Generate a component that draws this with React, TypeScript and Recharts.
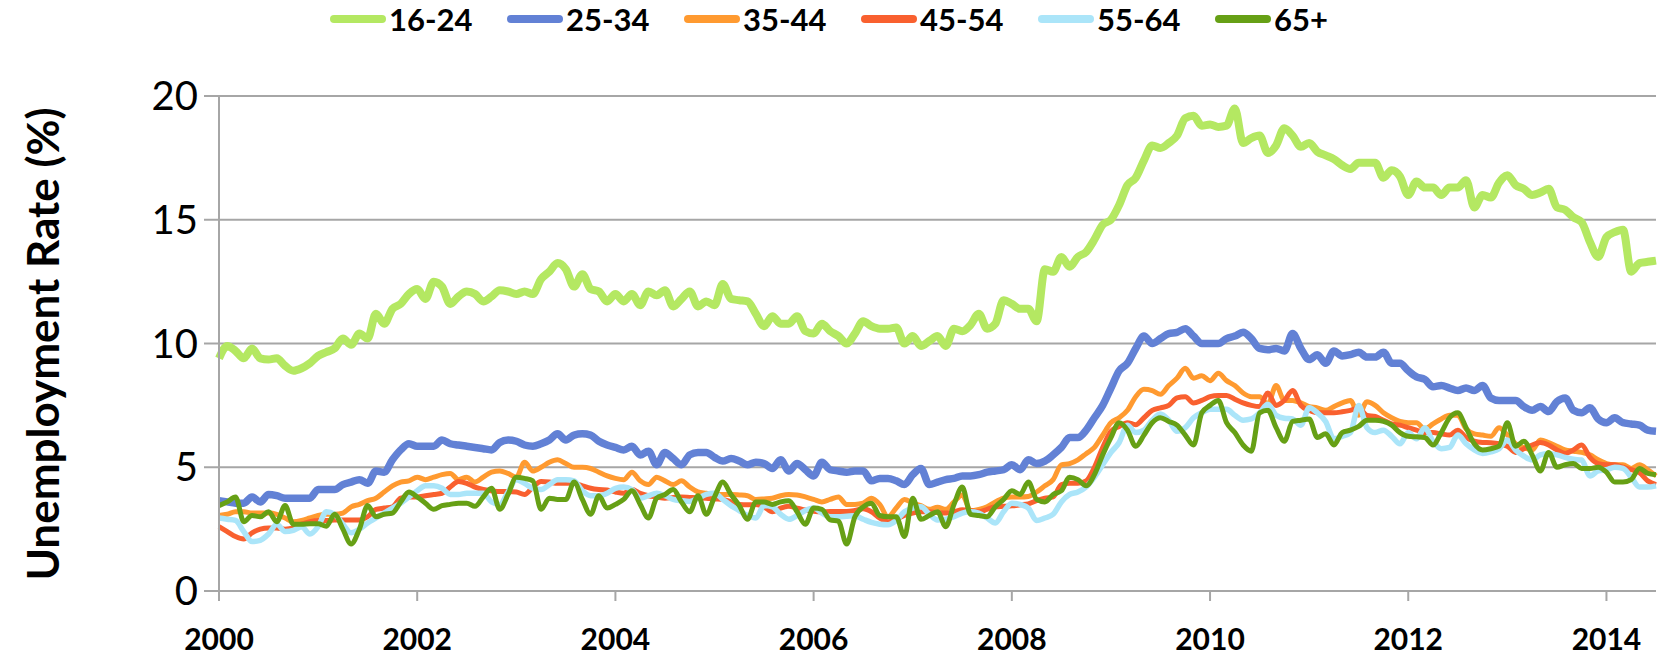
import React from 'react';
import { LineChart, Line, XAxis, YAxis, CartesianGrid, Label } from 'recharts';

// monthly unemployment rate (%) by age group, Jan 2000 - Jul 2014
const START_YEAR = 2000;

const age16to24 = [
  9.4, 9.9, 9.7, 9.4, 9.8, 9.4, 9.35, 9.4, 9.1, 8.9, 9.0, 9.2,
  9.5, 9.65, 9.8, 10.2, 9.95, 10.4, 10.2, 11.2, 10.8, 11.4, 11.6, 12.0,
  12.2, 11.8, 12.5, 12.3, 11.6, 11.9, 12.1, 12.0, 11.7, 11.9, 12.15, 12.1,
  12.0, 12.1, 12.0, 12.6, 12.9, 13.25, 13.0, 12.3, 12.8, 12.2, 12.1, 11.7,
  12.0, 11.7, 12.0, 11.55, 12.1, 11.95, 12.15, 11.5, 11.8, 12.1, 11.5, 11.7,
  11.55, 12.4, 11.8, 11.75, 11.7, 11.2, 10.7, 11.1, 10.8, 10.8, 11.1, 10.5,
  10.4, 10.8, 10.5, 10.3, 10.0, 10.4, 10.9, 10.7, 10.6, 10.6, 10.65, 10.0,
  10.3, 9.9, 10.1, 10.3, 9.9, 10.6, 10.5, 10.75, 11.2, 10.6, 10.8, 11.75,
  11.6, 11.4, 11.4, 10.9, 13.0, 12.9, 13.5, 13.1, 13.5, 13.7, 14.2, 14.8,
  15.0, 15.6, 16.4, 16.7, 17.4, 18.0, 17.9, 18.1, 18.4, 19.1, 19.2, 18.8,
  18.85, 18.75, 18.8, 19.5, 18.1, 18.3, 18.4, 17.7, 18.0, 18.7, 18.4, 17.95,
  18.1, 17.75, 17.6, 17.45, 17.2, 17.05, 17.3, 17.3, 17.3, 16.7, 17.0, 16.75,
  16.0, 16.55, 16.3, 16.3, 16.0, 16.3, 16.3, 16.6, 15.5, 16.0, 15.9, 16.5,
  16.8, 16.4, 16.25, 16.0, 16.1, 16.25, 15.5, 15.4, 15.1, 14.9, 14.1, 13.5,
  14.3, 14.5, 14.6, 12.9, 13.25, 13.3, 13.35,
];

const age25to34 = [
  3.65, 3.6, 3.55, 3.55, 3.8, 3.6, 3.9, 3.85, 3.75, 3.75, 3.75, 3.75,
  4.1, 4.1, 4.1, 4.3, 4.4, 4.5, 4.35, 4.85, 4.8, 5.3, 5.7, 5.95,
  5.85, 5.85, 5.85, 6.1, 5.95, 5.9, 5.85, 5.8, 5.75, 5.7, 6.0, 6.1,
  6.05, 5.9, 5.85, 5.95, 6.1, 6.35, 6.1, 6.3, 6.35, 6.3, 6.05, 5.9,
  5.8, 5.7, 5.85, 5.5, 5.65, 5.1, 5.6, 5.35, 5.1, 5.5, 5.6, 5.6,
  5.4, 5.25, 5.35, 5.25, 5.1, 5.2, 5.15, 4.95, 5.3, 4.85, 5.15, 4.9,
  4.65, 5.2, 4.9, 4.85, 4.8, 4.85, 4.85, 4.45, 4.55, 4.55, 4.45, 4.3,
  4.7, 4.95, 4.3, 4.4, 4.5, 4.55, 4.65, 4.65, 4.7, 4.8, 4.85, 4.9,
  5.1, 4.9, 5.3, 5.15, 5.25, 5.5, 5.8, 6.2, 6.2, 6.5, 7.0, 7.5,
  8.2, 8.9, 9.2, 9.8, 10.3, 10.0, 10.2, 10.4, 10.45, 10.6, 10.3, 10.0,
  10.0, 10.0, 10.2, 10.3, 10.45, 10.2, 9.8, 9.75, 9.8, 9.7, 10.4, 9.8,
  9.35, 9.55, 9.2, 9.7, 9.5, 9.55, 9.65, 9.45, 9.45, 9.65, 9.2, 9.2,
  8.9, 8.65, 8.55, 8.25, 8.3, 8.2, 8.1, 8.2, 8.1, 8.3, 7.8, 7.7,
  7.7, 7.7, 7.45, 7.3, 7.45, 7.25, 7.65, 7.8, 7.3, 7.2, 7.4, 6.95,
  6.8, 7.0, 6.8, 6.75, 6.7, 6.5, 6.45,
];

const age35to44 = [
  3.05, 3.1, 3.2, 3.2, 3.15, 3.15, 3.15, 3.1, 2.95, 2.8, 2.85, 2.95,
  3.05, 3.1, 3.1, 3.15, 3.4, 3.5, 3.65, 3.75, 4.0, 4.25, 4.4, 4.45,
  4.6, 4.5, 4.6, 4.7, 4.75, 4.5, 4.6, 4.4, 4.6, 4.8, 4.85, 4.75,
  4.6, 5.2, 4.85, 5.0, 5.2, 5.3, 5.15, 5.0, 5.0, 4.95, 4.8, 4.65,
  4.55, 4.5, 4.8, 4.45, 4.3, 4.6, 4.45, 4.3, 4.45, 4.2, 4.0, 3.95,
  3.9, 3.9, 3.9, 3.88, 3.85, 3.7, 3.72, 3.75, 3.85, 3.9, 3.88, 3.8,
  3.7, 3.6, 3.7, 3.8, 3.5, 3.5, 3.55, 3.75, 3.5, 3.0, 3.35, 3.7,
  3.55, 3.45, 3.3, 3.38, 3.3, 3.6, 3.88, 3.25, 3.3, 3.4, 3.6, 3.75,
  3.8, 3.8, 3.82, 4.0, 4.25, 4.5, 5.1, 5.15, 5.3, 5.55, 5.8, 6.3,
  6.8, 7.0, 7.3, 7.85, 8.15, 8.1, 7.95, 8.3, 8.6, 9.0, 8.6, 8.7,
  8.5, 8.8, 8.5, 8.3, 8.0, 7.85, 7.85, 7.55, 8.3, 7.7, 7.7, 7.6,
  7.45, 7.4, 7.3, 7.45, 7.6, 7.7, 7.1, 7.65, 7.5, 7.2, 7.0, 6.85,
  6.8, 6.8, 6.55, 6.75, 6.95, 7.1, 7.1, 6.55, 6.35, 6.3, 6.25, 6.6,
  6.3, 5.95, 5.8, 5.7, 6.1, 6.0, 5.85, 5.7, 5.65, 5.6, 5.5, 5.3,
  5.15, 5.1, 5.1, 4.95, 5.1, 4.9, 4.65,
];

const age45to54 = [
  2.6, 2.4, 2.2, 2.1, 2.35, 2.5, 2.55, 2.55, 2.5, 2.55, 2.7, 2.8,
  2.85, 2.85, 2.87, 2.87, 2.87, 2.87, 3.0, 3.3, 3.35, 3.4, 3.75, 3.8,
  3.8, 3.85, 3.9, 3.95, 4.2, 4.42, 4.35, 4.2, 4.1, 4.05, 4.02, 4.02,
  4.0, 3.9, 4.2, 4.42, 4.4, 4.35, 4.35, 4.35, 4.25, 4.15, 4.1, 4.08,
  4.0, 3.95, 4.1, 3.95, 3.85, 3.8, 3.75, 3.78, 3.8, 3.78, 3.76, 3.75,
  3.72, 3.7, 3.6, 3.5, 3.48, 3.5, 3.4, 3.2, 3.35, 3.42, 3.35, 3.27,
  3.22, 3.2, 3.21, 3.21, 3.21, 3.25, 3.32, 3.2, 2.95, 2.8, 2.9, 3.05,
  3.15, 3.2, 3.2, 3.17, 3.15, 3.2, 3.28, 3.25, 3.2, 3.3, 3.4, 3.42,
  3.44, 3.48, 3.52, 3.65, 3.75, 3.8, 4.3, 4.35, 4.35, 4.45, 5.0, 5.8,
  6.45, 6.65, 6.8, 6.72, 7.0, 7.3, 7.4, 7.5, 7.8, 7.85, 7.6, 7.7,
  7.85, 7.9, 7.9, 7.75, 7.6, 7.5, 7.45, 8.0, 7.5, 7.7, 8.1, 7.5,
  7.3, 7.2, 7.2, 7.2, 7.24, 7.3, 7.38, 7.1, 7.05, 6.9, 6.75, 6.7,
  6.6, 6.5, 6.4, 6.4, 6.35, 6.3, 6.5, 6.2, 6.05, 6.0, 5.99, 5.95,
  5.85, 5.6, 5.75, 5.9, 6.0, 5.9, 5.7, 5.56, 5.7, 5.9, 5.4, 5.15,
  5.1, 5.1, 5.0, 4.9, 4.78, 4.45, 4.3,
];

const age55to64 = [
  2.95, 2.9, 2.85, 2.4, 2.0, 2.05, 2.3, 2.7, 2.4, 2.45, 2.6, 2.3,
  2.6, 3.2, 3.1, 2.7, 2.35, 2.5, 2.75, 2.95, 3.15, 3.35, 3.55, 3.8,
  4.05, 4.25, 4.25, 4.15, 3.9, 3.9, 3.95, 3.95, 3.95, 3.6, 3.5, 4.0,
  4.5, 4.35, 4.15, 4.1, 4.3, 4.5, 4.5, 4.45, 4.05, 3.85, 3.85, 3.95,
  4.15, 4.2, 4.1, 3.75, 3.85, 3.95, 3.85, 3.7, 3.65, 3.62, 3.75, 3.9,
  3.95, 3.7, 3.45, 3.25, 3.05, 2.95, 3.45, 3.4, 3.1, 2.9, 3.05, 3.25,
  3.35, 3.15, 3.0, 3.0, 3.02, 3.04, 2.9, 2.77, 2.7, 2.68, 2.85, 3.2,
  3.35, 3.4, 3.1, 2.87, 2.9, 3.0, 3.15, 3.2, 3.15, 2.95, 2.75, 3.2,
  3.55, 3.5, 3.35, 2.85, 2.95, 3.1, 3.6, 3.9, 4.0, 4.2, 4.6, 5.1,
  5.6, 6.0, 6.7, 6.4, 6.5, 6.9, 7.15, 6.9, 6.45, 6.6, 7.0, 7.2,
  7.34, 7.34, 7.34, 7.1, 6.9, 6.95, 7.2, 7.55, 7.1, 6.98, 6.95, 6.7,
  7.4, 7.2, 6.85, 6.15, 6.25, 6.4, 7.5, 6.6, 6.4, 6.5, 6.25, 5.95,
  6.4, 6.15, 6.6, 6.05, 5.75, 5.8, 6.3, 5.95, 5.7, 5.56, 5.62, 5.75,
  6.1, 5.7, 5.45, 5.3, 5.5, 5.55, 5.5, 5.4, 5.32, 5.29, 4.65, 4.85,
  4.9, 5.0, 4.95, 4.6, 4.2, 4.2, 4.25,
];

const age65plus = [
  3.45, 3.6, 3.8, 2.8, 3.05, 3.0, 3.2, 2.8, 3.45, 2.7, 2.7, 2.72,
  2.72, 2.62, 3.1, 2.5, 1.9, 2.5, 3.45, 3.0, 3.1, 3.15, 3.6, 4.0,
  3.8, 3.55, 3.3, 3.45, 3.5, 3.55, 3.55, 3.42, 3.8, 4.15, 3.3, 3.9,
  4.6, 4.55, 4.45, 3.3, 3.75, 3.7, 3.7, 4.4, 3.7, 3.1, 3.85, 3.35,
  3.5, 3.7, 4.05, 3.5, 2.95, 3.75, 3.9, 4.1, 3.6, 3.2, 3.85, 3.1,
  3.8, 4.4, 3.9, 3.45, 2.9, 3.6, 3.6, 3.5, 3.6, 3.65, 3.2, 2.7,
  3.35, 3.3, 2.87, 2.82, 1.9, 3.0, 3.4, 3.55, 3.05, 3.0, 3.0, 2.2,
  3.75, 2.9, 3.05, 3.2, 2.6, 3.5, 4.2, 3.1, 3.05, 3.0, 3.4, 3.7,
  4.05, 3.9, 4.4, 3.7, 3.6, 3.9, 4.05, 4.6, 4.5, 4.25, 4.7, 5.5,
  6.2, 6.8, 6.5, 5.85, 6.3, 6.8, 7.0, 6.85, 6.7, 6.3, 5.9, 7.2,
  7.5, 7.7, 6.8, 6.4, 5.9, 5.65, 7.2, 7.3, 6.6, 6.05, 6.85, 6.9,
  6.95, 6.2, 6.35, 5.9, 6.4, 6.5, 6.65, 6.9, 6.9, 6.85, 6.7, 6.4,
  6.25, 6.23, 6.2, 5.9, 6.4, 7.0, 7.2, 6.6, 5.95, 5.7, 5.75, 5.85,
  6.8, 5.85, 6.05, 5.5, 4.85, 5.6, 5.0, 5.1, 5.15, 4.95, 4.95, 5.0,
  4.8, 4.4, 4.4, 4.5, 4.95, 4.75, 4.7,
];

const seriesNames = ['16-24', '25-34', '35-44', '45-54', '55-64', '65+'];
const seriesValues = [age16to24, age25to34, age35to44, age45to54, age55to64, age65plus];
const seriesColors = ['#b4e862', '#6281d5', '#ff9a30', '#f9602f', '#abe5f9', '#66a015'];
const seriesWidths = [8, 7.5, 5, 5, 5.5, 5];

const yearTicks = [2000, 2002, 2004, 2006, 2008, 2010, 2012, 2014];
const yTicks = [0, 5, 10, 15, 20];

const FONT = 'Lato, "Open Sans", sans-serif';
const GRID = '#a6a6a6';

const data = age16to24.map((_, i) => {
  const row: Record<string, number> = { m: i };
  seriesNames.forEach((name, s) => {
    row[name] = seriesValues[s][i];
  });
  return row;
});

const YTitle = () => (
  <text
    x={42}
    y={344}
    transform="rotate(-90 42 344)"
    textAnchor="middle"
    dominantBaseline="central"
    fontFamily={FONT}
    fontWeight="bold"
    fontSize={44}
    fill="#000"
  >
    Unemployment Rate (%)
  </text>
);

export default function App() {
  return (
    <div style={{ position: 'absolute', left: 0, top: 0, width: 1661, height: 657, background: '#fff' }}>
      <div
        style={{
          position: 'absolute',
          left: 330,
          top: 0,
          height: 38,
          display: 'flex',
          alignItems: 'center',
          fontFamily: FONT,
          fontWeight: 'bold',
          fontSize: 31,
        }}
      >
        {seriesNames.map((name, i) => (
          <div key={name} style={{ width: 177, display: 'flex', alignItems: 'center' }}>
            <span
              style={{
                display: 'inline-block',
                width: 56,
                height: 8,
                borderRadius: 4,
                background: seriesColors[i],
                marginRight: 3,
              }}
            />
            <span>{name}</span>
          </div>
        ))}
      </div>

      <LineChart
        width={1661}
        height={657}
        data={data}
        margin={{ top: 96, right: 5, bottom: 0, left: 0 }}
      >
        <CartesianGrid vertical={false} stroke={GRID} strokeWidth={2} />
        <XAxis
          dataKey="m"
          type="number"
          domain={[0, 174]}
          ticks={yearTicks.map((y) => (y - START_YEAR) * 12)}
          tickFormatter={(m: number) => String(START_YEAR + m / 12)}
          height={66}
          stroke={GRID}
          strokeWidth={2}
          tickSize={10}
          tickMargin={28}
          tick={{ fontSize: 30, fontWeight: 'bold', fill: '#000', fontFamily: FONT }}
          interval={0}
        />
        <YAxis
          domain={[0, 20]}
          ticks={yTicks}
          width={219}
          stroke={GRID}
          strokeWidth={2}
          tickSize={15}
          tickMargin={6}
          tick={{ fontSize: 40, fill: '#000', fontFamily: FONT }}
          interval={0}
        >
          <Label content={<YTitle />} />
        </YAxis>
        {seriesNames.map((name, i) => (
          <Line
            key={name}
            dataKey={name}
            type="monotone"
            stroke={seriesColors[i]}
            strokeWidth={seriesWidths[i]}
            strokeLinejoin="round"
            dot={false}
            activeDot={false}
            isAnimationActive={false}
          />
        ))}
      </LineChart>
    </div>
  );
}
